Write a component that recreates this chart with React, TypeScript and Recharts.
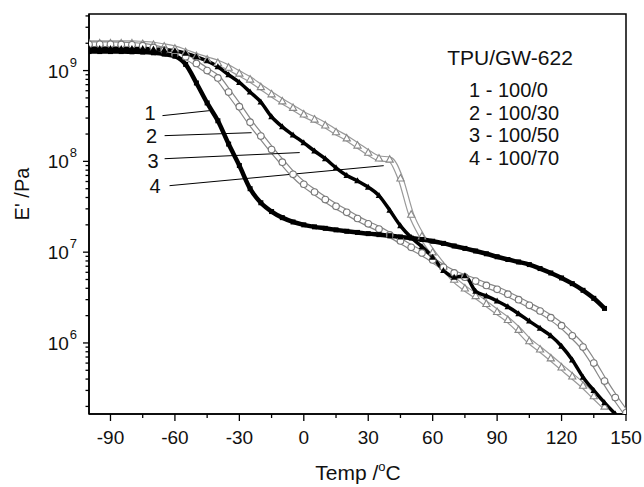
import React from "react";
import { LineChart, Line, XAxis, YAxis, ReferenceArea, ReferenceLine, Label } from "recharts";

const temps = [-100, -95, -90, -85, -80, -75, -70, -65, -60, -55, -50, -45, -40, -35, -30, -25, -20, -15, -10, -5, 0, 5, 10, 15, 20, 25, 30, 35, 40, 45, 50, 55, 60, 65, 70, 75, 80, 85, 90, 95, 100, 105, 110, 115, 120, 125, 130, 135, 140, 145, 150];

const s1 = [1.62e9, 1.62e9, 1.62e9, 1.62e9, 1.61e9, 1.6e9, 1.57e9, 1.52e9, 1.44e9, 1.17e9, 7.3e8, 4.4e8, 2.8e8, 1.55e8, 9e7, 5e7, 3.5e7, 2.8e7, 2.4e7, 2.15e7, 2e7, 1.9e7, 1.83e7, 1.76e7, 1.7e7, 1.65e7, 1.6e7, 1.56e7, 1.52e7, 1.47e7, 1.43e7, 1.38e7, 1.32e7, 1.25e7, 1.17e7, 1.1e7, 1.03e7, 9.6e6, 8.9e6, 8.3e6, 7.8e6, 7.3e6, 6.6e6, 5.9e6, 5.2e6, 4.5e6, 3.8e6, 3.1e6, 2.4e6, null, null];
const s2 = [1.95e9, 1.95e9, 1.95e9, 1.94e9, 1.92e9, 1.88e9, 1.8e9, 1.68e9, 1.52e9, 1.42e9, 1.2e9, 1e9, 8.3e8, 5.8e8, 4e8, 2.7e8, 1.9e8, 1.35e8, 9.8e7, 7.2e7, 5.6e7, 4.6e7, 3.8e7, 3.2e7, 2.75e7, 2.35e7, 2.05e7, 1.8e7, 1.55e7, 1.33e7, 1.13e7, 9.8e6, 8.2e6, 6.8e6, 5.9e6, 5.3e6, 4.8e6, 4.3e6, 3.9e6, 3.45e6, 3e6, 2.6e6, 2.25e6, 1.9e6, 1.55e6, 1.2e6, 9e5, 6e5, 3.8e5, 2.5e5, 1.7e5];
const s3 = [1.75e9, 1.75e9, 1.75e9, 1.75e9, 1.75e9, 1.75e9, 1.73e9, 1.7e9, 1.65e9, 1.55e9, 1.42e9, 1.28e9, 1.1e9, 9e8, 7.4e8, 5.8e8, 4.5e8, 3.1e8, 2.4e8, 1.95e8, 1.6e8, 1.3e8, 1.07e8, 8.5e7, 7e7, 6.1e7, 5.2e7, 4.2e7, 2.9e7, 1.95e7, 1.45e7, 1.15e7, 8.8e6, 6.3e6, 5.3e6, 5.5e6, 3.7e6, 3.3e6, 2.9e6, 2.5e6, 2.1e6, 1.74e6, 1.45e6, 1.2e6, 9.2e5, 6.5e5, 4.2e5, 3e5, 2.2e5, 1.65e5, null];
const s4 = [2e9, 2e9, 2e9, 2e9, 2e9, 1.97e9, 1.93e9, 1.85e9, 1.75e9, 1.6e9, 1.45e9, 1.33e9, 1.22e9, 1.08e9, 9.3e8, 8e8, 6.6e8, 5.5e8, 4.6e8, 3.9e8, 3.3e8, 2.9e8, 2.5e8, 2.1e8, 1.8e8, 1.5e8, 1.25e8, 1.08e8, 1.05e8, 6.5e7, 2.6e7, 1.5e7, 1e7, 7e6, 5e6, 4e6, 3.3e6, 2.7e6, 2.2e6, 1.8e6, 1.4e6, 1.05e6, 8.5e5, 6.8e5, 5.4e5, 4.3e5, 3.4e5, 2.6e5, 2e5, null, null];

const xTicks = [-90, -75, -60, -45, -30, -15, 0, 15, 30, 45, 60, 75, 90, 105, 120, 135, 150];
const yTicks = [2e5, 3e5, 4e5, 5e5, 6e5, 7e5, 8e5, 9e5, 1e6, 2e6, 3e6, 4e6, 5e6, 6e6, 7e6, 8e6, 9e6, 1e7, 2e7, 3e7, 4e7, 5e7, 6e7, 7e7, 8e7, 9e7, 1e8, 2e8, 3e8, 4e8, 5e8, 6e8, 7e8, 8e8, 9e8, 1e9, 2e9, 3e9, 4e9];

const legendTitle = "TPU/GW-622";
const legendItems = ["1 - 100/0", "2 - 100/30", "3 - 100/50", "4 - 100/70"];
const curveLabels = ["1", "2", "3", "4"];
// pointer segments: [x1, y1, x2, y2] in data units
const pointers = [
  [-65.8, 3.19e8, -43.9, 3.62e8],
  [-64.8, 1.92e8, -24.3, 2.07e8],
  [-64.8, 1.07e8, -1.9, 1.25e8],
  [-62.5, 5.4e7, 37.2, 8.97e7],
];

const mk = (vals: (number | null)[]) => temps.map((t, i) => ({ t, v: vals[i] })).filter((d) => d.v !== null);
const d1 = mk(s1);
const d2 = mk(s2);
const d3 = mk(s3);
const d4 = mk(s4);

const FONT = "Liberation Sans, Arial, sans-serif";

const XTick = (p: any) => {
  const { x, y, payload } = p;
  const major = payload.value % 30 === 0;
  return (
    <g>
      <line x1={x} x2={x} y1={y} y2={y + (major ? 7 : 4)} stroke="#000" strokeWidth={1.3} />
      {major && (
        <text x={x} y={y + 30} textAnchor="middle" fontSize={19} fontFamily={FONT} fill="#111">
          {payload.value}
        </text>
      )}
    </g>
  );
};

const YTick = (p: any) => {
  const { x, y, payload } = p;
  const lg = Math.log10(payload.value);
  const e = Math.round(lg);
  const major = Math.abs(lg - e) < 1e-6;
  return (
    <g>
      <line x1={x} x2={x - (major ? 6 : 3.5)} y1={y} y2={y} stroke="#000" strokeWidth={1.3} />
      {major && (
        <text x={x - 12} y={y + 7} textAnchor="end" fontSize={19} fontFamily={FONT} fill="#111">
          10
          <tspan dx={1} dy={-11} fontSize={13}>
            {e}
          </tspan>
        </text>
      )}
    </g>
  );
};

const Square = (p: any) => {
  const { cx, cy, index } = p;
  if (cx == null || cy == null) return <g key={`s${index}`} />;
  return <rect key={`s${index}`} x={cx - 2.5} y={cy - 2.5} width={5} height={5} fill="#000" />;
};
const Circle = (p: any) => {
  const { cx, cy, index } = p;
  if (cx == null || cy == null) return <g key={`c${index}`} />;
  return <circle key={`c${index}`} cx={cx} cy={cy} r={3.3} fill="#fff" stroke="#777" strokeWidth={1.1} />;
};
const TriFill = (p: any) => {
  const { cx, cy, index } = p;
  if (cx == null || cy == null) return <g key={`tf${index}`} />;
  return <path key={`tf${index}`} d={`M${cx},${cy - 3.5}L${cx + 3.3},${cy + 2.5}L${cx - 3.3},${cy + 2.5}Z`} fill="#000" />;
};
const TriOpen = (p: any) => {
  const { cx, cy, index } = p;
  if (cx == null || cy == null) return <g key={`to${index}`} />;
  return <path key={`to${index}`} d={`M${cx},${cy - 3.8}L${cx + 3.6},${cy + 2.7}L${cx - 3.6},${cy + 2.7}Z`} fill="#fff" stroke="#888" strokeWidth={1.1} />;
};

export default function App() {
  return (
    <div style={{ position: "absolute", left: 0, top: 0, width: 644, height: 487, background: "#fff" }}>
      <LineChart width={644} height={487} margin={{ top: 14, right: 18, bottom: 0, left: 0 }}>
        <XAxis
          dataKey="t"
          type="number"
          domain={[-100, 150]}
          ticks={xTicks}
          allowDataOverflow
          height={73}
          tickSize={0}
          tickMargin={0}
          tickLine={false}
          tick={<XTick />}
          axisLine={{ stroke: "#000", strokeWidth: 1.5 }}
          interval={0}
        >
          <Label
            content={() => (
              <text x={358} y={480} textAnchor="middle" fontSize={21} fontFamily={FONT} fill="#111">
                Temp /
                <tspan dy={-9} fontSize={13}>o</tspan>
                <tspan dy={9}>C</tspan>
              </text>
            )}
          />
        </XAxis>
        <YAxis
          dataKey="v"
          type="number"
          scale="log"
          domain={[1.65e5, 4.2e9]}
          ticks={yTicks}
          allowDataOverflow
          width={89}
          tickSize={0}
          tickMargin={0}
          tickLine={false}
          tick={<YTick />}
          axisLine={{ stroke: "#000", strokeWidth: 1.5 }}
          interval={0}
        >
          <Label
            content={() => (
              <text x={29} y={194} transform="rotate(-90 29 194)" textAnchor="middle" fontSize={20} fontFamily={FONT} fill="#111">
                E' /Pa
              </text>
            )}
          />
        </YAxis>
        <ReferenceArea x1={-100} x2={150} y1={1.65e5} y2={4.2e9} fill="none" stroke="#000" strokeWidth={1.5} ifOverflow="visible" />
        <Line data={d4} dataKey="v" stroke="#999" strokeWidth={6} dot={false} isAnimationActive={false} type="monotone" />
        <Line data={d4} dataKey="v" stroke="#fff" strokeWidth={3.6} dot={<TriOpen />} isAnimationActive={false} type="monotone" />
        <Line data={d2} dataKey="v" stroke="#888" strokeWidth={6} dot={false} isAnimationActive={false} type="monotone" />
        <Line data={d2} dataKey="v" stroke="#fff" strokeWidth={3.6} dot={<Circle />} isAnimationActive={false} type="monotone" />
        <Line data={d3} dataKey="v" stroke="#000" strokeWidth={3.5} dot={<TriFill />} isAnimationActive={false} type="monotone" />
        <Line data={d1} dataKey="v" stroke="#000" strokeWidth={4.5} dot={<Square />} isAnimationActive={false} type="monotone" />
        {pointers.map((s, i) => (
          <ReferenceLine
            key={`p${i}`}
            segment={[
              { x: s[0], y: s[1] },
              { x: s[2], y: s[3] },
            ]}
            stroke="#000"
            strokeWidth={1}
            ifOverflow="visible"
          />
        ))}
      </LineChart>
      <svg width={644} height={487} style={{ position: "absolute", left: 0, top: 0, pointerEvents: "none" }}>
        {curveLabels.map((c, i) => (
          <text key={c} x={[150, 151.5, 153, 155][i]} y={[120, 143, 168, 193][i]} textAnchor="middle" fontSize={20} fontFamily={FONT} fill="#111">
            {c}
          </text>
        ))}
        <text x={510} y={65} textAnchor="middle" fontSize={21} fontFamily={FONT} fill="#111">
          {legendTitle}
        </text>
        {legendItems.map((s, i) => (
          <text key={s} x={469} y={97 + i * 22.7} fontSize={20} fontFamily={FONT} fill="#111">
            {s}
          </text>
        ))}
      </svg>
    </div>
  );
}
